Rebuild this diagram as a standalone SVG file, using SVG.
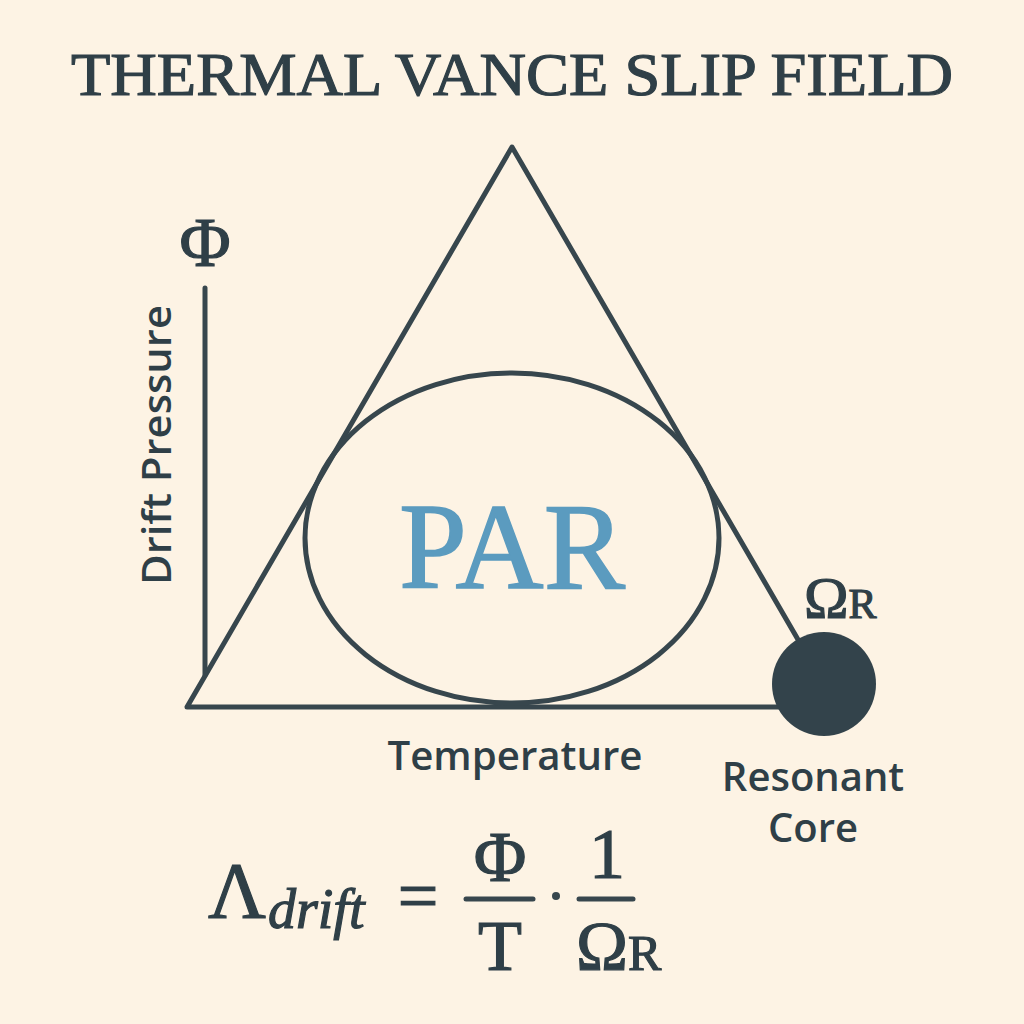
<svg xmlns="http://www.w3.org/2000/svg" width="1024" height="1024" viewBox="0 0 1024 1024">
<style>
.ink{fill:#2f3f47}
.sk{stroke:#2f3f47;stroke-width:1.2}
.ln{stroke:#37464d;stroke-width:5;fill:none;stroke-linecap:round;stroke-linejoin:round}
.serif{font-family:"Liberation Serif","DejaVu Serif",serif}
.sans{font-family:"Open Sans","Noto Sans","Liberation Sans",sans-serif;font-weight:600}
</style>
<rect width="1024" height="1024" fill="#fdf3e4"/>
<text class="serif ink sk" x="512" y="95" font-size="62" text-anchor="middle" textLength="882" lengthAdjust="spacingAndGlyphs">THERMAL VANCE SLIP FIELD</text>
<g id="connectors">
<polyline class="ln" points="780,707 187,707 512,147 800,643"/>
<line class="ln" x1="205" y1="288" x2="205" y2="675"/>
</g>
<g id="field">
<ellipse class="ln" cx="512" cy="538" rx="207" ry="165"/>
<text class="serif" x="512" y="588" font-size="122" fill="#5b9bbf" stroke="#5b9bbf" stroke-width="1.5" text-anchor="middle">PAR</text>
</g>
<g id="axis-y">
<text class="serif ink sk" x="205" y="266" font-size="70" text-anchor="middle">Φ</text>
<text class="sans ink" transform="translate(171,445) rotate(-90)" font-size="40" text-anchor="middle" textLength="280" lengthAdjust="spacingAndGlyphs">Drift Pressure</text>
</g>
<g id="axis-x">
<text class="sans ink" x="515" y="770" font-size="40" text-anchor="middle" textLength="255" lengthAdjust="spacingAndGlyphs">Temperature</text>
</g>
<g id="core">
<circle cx="824" cy="684" r="52" fill="#33434b"/>
<text class="serif ink sk" x="804" y="618" font-size="60">Ω<tspan font-size="42">R</tspan></text>
<text class="sans ink" x="813" y="791" font-size="40" text-anchor="middle">Resonant</text>
<text class="sans ink" x="813" y="842" font-size="40" text-anchor="middle">Core</text>
</g>
<g id="formula">
<text class="serif ink sk" x="208" y="918" font-size="80">Λ</text>
<text class="serif ink sk" x="268" y="928" font-size="56" font-style="italic">drift</text>
<text class="serif ink sk" x="418" y="920" font-size="72" text-anchor="middle">=</text>
<line class="ln" x1="466" y1="899" x2="533" y2="899"/>
<text class="serif ink sk" x="500" y="881" font-size="72" text-anchor="middle">Φ</text>
<text class="serif ink sk" x="500" y="970" font-size="72" text-anchor="middle">T</text>
<circle cx="556" cy="896" r="4" fill="#37464d"/>
<line class="ln" x1="579" y1="899" x2="633" y2="899"/>
<text class="serif ink sk" x="607" y="878" font-size="72" text-anchor="middle">1</text>
<text class="serif ink sk" x="576" y="970" font-size="70">Ω<tspan font-size="50">R</tspan></text>
</g>
</svg>
